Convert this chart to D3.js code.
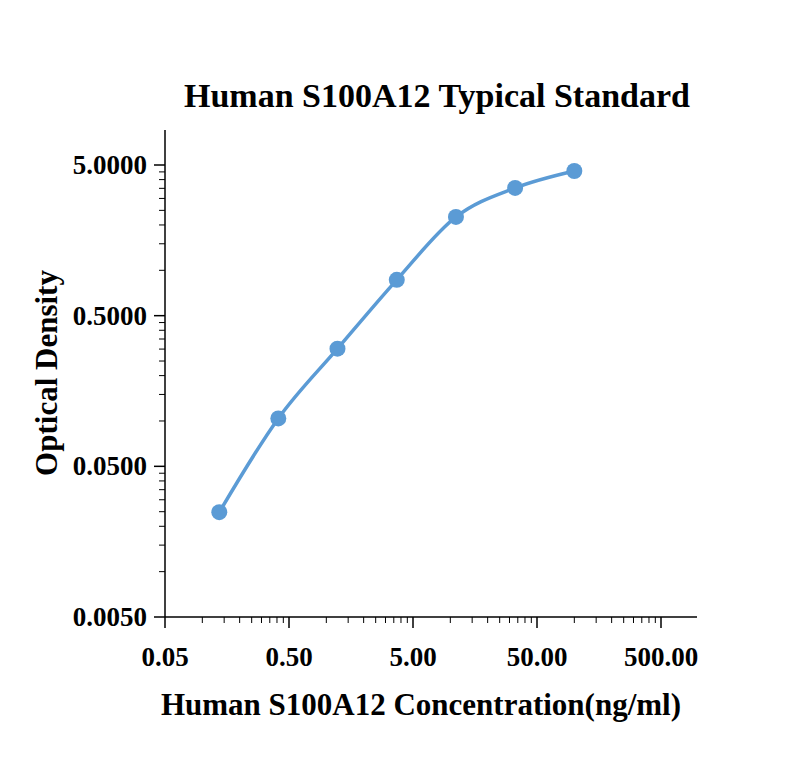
<!DOCTYPE html>
<html>
<head>
<meta charset="utf-8">
<style>
body { margin: 0; background: #fff; }
text { font-family: "Liberation Serif", "Times New Roman", serif; font-weight: bold; }
</style>
<script src="https://cdnjs.cloudflare.com/ajax/libs/d3/7.8.5/d3.min.js"></script>
</head>
<body>
<script>
var conc = [0.137, 0.41, 1.23, 3.7, 11.1, 33.3, 100];
var od = [0.0248, 0.104, 0.302, 0.865, 2.26, 3.52, 4.56];
var xTicks = [0.05, 0.5, 5, 50, 500];
var xLabels = ["0.05", "0.50", "5.00", "50.00", "500.00"];
var yTicks = [0.005, 0.05, 0.5, 5];
var yLabels = ["0.0050", "0.0500", "0.5000", "5.0000"];

var svg = d3.select("body").append("svg").attr("width", 800).attr("height", 776);

var x = d3.scaleLog().domain([0.05, 500]).range([165, 661]);
var y = d3.scaleLog().domain([0.005, 5]).range([617, 165]);
var xEnd = 697, yTop = 130;

var axisColor = "#000";
// x axis
svg.append("line").attr("x1", 165).attr("x2", xEnd).attr("y1", 617).attr("y2", 617).attr("stroke", axisColor).attr("stroke-width", 1.5);
var xMinor = [];
for (var d = 0.05; d < 1000; d *= 10)
  for (var k = 2; k <= 9; k++) if (x(d * k) <= xEnd) xMinor.push(d * k);
svg.selectAll(".xm").data(xMinor).enter().append("line")
  .attr("x1", v => x(v)).attr("x2", v => x(v)).attr("y1", 617).attr("y2", 623)
  .attr("stroke", axisColor);
svg.selectAll(".xM").data(xTicks).enter().append("line")
  .attr("x1", v => x(v)).attr("x2", v => x(v)).attr("y1", 617).attr("y2", 628)
  .attr("stroke", axisColor).attr("stroke-width", 1.5);
svg.selectAll(".xl").data(xTicks).enter().append("text")
  .attr("x", v => x(v)).attr("y", 666).attr("text-anchor", "middle")
  .attr("font-size", 27).text((v, i) => xLabels[i]);

// y axis
svg.append("line").attr("x1", 165).attr("x2", 165).attr("y1", yTop).attr("y2", 617).attr("stroke", axisColor).attr("stroke-width", 1.5);
var yMinor = [];
for (var e = 0.005; e < 50; e *= 10)
  for (var k = 2; k <= 9; k++) if (y(e * k) >= yTop) yMinor.push(e * k);
svg.selectAll(".ym").data(yMinor).enter().append("line")
  .attr("x1", 159).attr("x2", 165).attr("y1", v => y(v)).attr("y2", v => y(v))
  .attr("stroke", axisColor);
svg.selectAll(".yM").data(yTicks).enter().append("line")
  .attr("x1", 154).attr("x2", 165).attr("y1", v => y(v)).attr("y2", v => y(v))
  .attr("stroke", axisColor).attr("stroke-width", 1.5);
svg.selectAll(".yl").data(yTicks).enter().append("text")
  .attr("x", 147).attr("y", v => y(v) + 9).attr("text-anchor", "end")
  .attr("font-size", 27).text((v, i) => yLabels[i]);

// curve
var pts = conc.map((c, i) => [x(c), y(od[i])]);
svg.append("path").attr("d", d3.line().curve(d3.curveMonotoneX)(pts))
  .attr("fill", "none").attr("stroke", "#5b9bd5").attr("stroke-width", 3.5);
svg.selectAll(".pt").data(pts).enter().append("circle")
  .attr("cx", p => p[0]).attr("cy", p => p[1]).attr("r", 8).attr("fill", "#5b9bd5");

// titles
svg.append("text").attr("x", 437).attr("y", 107).attr("text-anchor", "middle")
  .attr("font-size", 34).text("Human S100A12 Typical Standard");
svg.append("text").attr("x", 421).attr("y", 715).attr("text-anchor", "middle")
  .attr("font-size", 31).text("Human S100A12 Concentration(ng/ml)");
svg.append("text").attr("transform", "translate(57,373) rotate(-90)").attr("text-anchor", "middle")
  .attr("font-size", 31).text("Optical Density");
</script>
</body>
</html>
